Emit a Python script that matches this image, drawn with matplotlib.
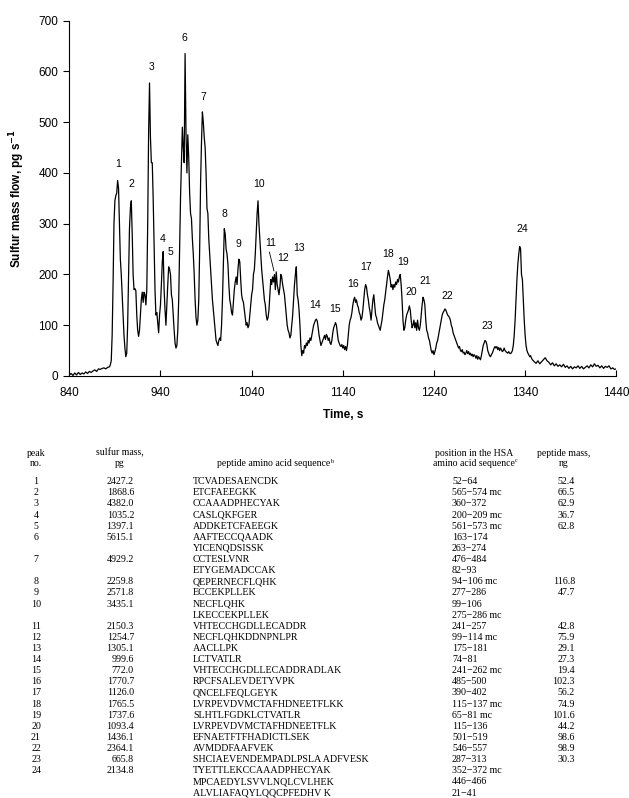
import matplotlib.pyplot as plt

plt.rcParams['font.family'] = ['Liberation Sans', 'DejaVu Sans']

# chromatogram trace (time in s, sulfur mass flow in pg/s)
time_s = [
    840, 842, 844, 846, 848, 850, 852, 854, 856, 858, 860, 862, 864, 866, 868, 870, 872, 874, 876, 878, 880, 882, 884,
    885, 886, 887, 888, 889, 890, 891, 892, 893, 894,
    895, 896, 897, 898, 899, 900, 901, 902, 903, 904,
    905, 906, 907, 908, 909, 910, 911, 912, 913, 914,
    915, 916, 917, 918, 919, 920, 921, 922, 923, 924,
    925, 926, 927, 928, 929, 930, 931, 932, 933, 934,
    935, 936, 937, 938, 939, 940, 941, 942, 943, 944,
    945, 946, 947, 948, 949, 950, 951, 952, 953, 954,
    955, 956, 957, 958, 959, 960, 961, 962, 963, 964,
    965, 966, 967, 968, 969, 970, 971, 972, 973, 974,
    975, 976, 977, 978, 979, 980, 981, 982, 983, 984,
    985, 986, 987, 988, 989, 990, 991, 992, 993, 994,
    995, 996, 997, 998, 999, 1000, 1001, 1002, 1003, 1004,
    1005, 1006, 1007, 1008, 1009, 1010, 1011, 1012, 1013, 1014,
    1015, 1016, 1017, 1018, 1019, 1020, 1021, 1022, 1023, 1024,
    1025, 1026, 1027, 1028, 1029, 1030, 1031, 1032, 1033, 1034,
    1035, 1036, 1037, 1038, 1039, 1040, 1041, 1042, 1043, 1044,
    1045, 1046, 1047, 1048, 1049, 1050, 1051, 1052, 1053, 1054,
    1055, 1056, 1057, 1058, 1059, 1060, 1061, 1062, 1063, 1064,
    1065, 1066, 1067, 1068, 1069, 1070, 1071, 1072, 1073, 1074,
    1075, 1076, 1077, 1078, 1079, 1080, 1081, 1082, 1083, 1084,
    1085, 1086, 1087, 1088, 1089, 1090, 1091, 1092, 1093, 1094,
    1095, 1096, 1097, 1098, 1099, 1100, 1101, 1102, 1103, 1104,
    1105, 1106, 1107, 1108, 1109, 1110, 1111, 1112, 1113, 1114,
    1115, 1116, 1117, 1118, 1119, 1120, 1121, 1122, 1123, 1124,
    1125, 1126, 1127, 1128, 1129, 1130, 1131, 1132, 1133, 1134,
    1135, 1136, 1137, 1138, 1139, 1140, 1141, 1142, 1143, 1144,
    1145, 1146, 1147, 1148, 1149, 1150, 1151, 1152, 1153, 1154,
    1155, 1156, 1157, 1158, 1159, 1160, 1161, 1162, 1163, 1164,
    1165, 1166, 1167, 1168, 1169, 1170, 1171, 1172, 1173, 1174,
    1175, 1176, 1177, 1178, 1179, 1180, 1181, 1182, 1183, 1184,
    1185, 1186, 1187, 1188, 1189, 1190, 1191, 1192, 1193, 1194,
    1195, 1196, 1197, 1198, 1199, 1200, 1201, 1202, 1203, 1204,
    1205, 1206, 1207, 1208, 1209, 1210, 1211, 1212, 1213, 1214,
    1215, 1216, 1217, 1218, 1219, 1220, 1221, 1222, 1223, 1224,
    1225, 1226, 1227, 1228, 1229, 1230, 1231, 1232, 1233, 1234,
    1235, 1236, 1237, 1238, 1239, 1240, 1241, 1242, 1243, 1244,
    1245, 1246, 1247, 1248, 1249, 1250, 1251, 1252, 1253, 1254,
    1255, 1256, 1257, 1258, 1259, 1260, 1261, 1262, 1263, 1264,
    1265, 1266, 1267, 1268, 1269, 1270, 1271, 1272, 1273, 1274,
    1275, 1276, 1277, 1278, 1279, 1280, 1281, 1282, 1283, 1284,
    1285, 1286, 1287, 1288, 1289, 1290, 1291, 1292, 1293, 1294,
    1295, 1296, 1297, 1298, 1299, 1300, 1301, 1302, 1303, 1304,
    1305, 1306, 1307, 1308, 1309, 1310, 1311, 1312, 1313, 1314,
    1315, 1316, 1317, 1318, 1319, 1320, 1321, 1322, 1323, 1324,
    1325, 1326, 1327, 1328, 1329, 1330, 1331, 1332, 1333, 1334,
    1335, 1336, 1337, 1338, 1339, 1340, 1341, 1342, 1343, 1344,
    1345, 1346, 1347, 1348, 1349,
    1350, 1352, 1354, 1356, 1358, 1360, 1362, 1364, 1366, 1368,
    1370, 1372, 1374, 1376, 1378, 1380, 1382, 1384, 1386, 1388,
    1390, 1392, 1394, 1396, 1398, 1400, 1402, 1404, 1406, 1408,
    1410, 1412, 1414, 1416, 1418, 1420, 1422, 1424, 1426, 1428,
    1430, 1432, 1434, 1436, 1438, 1440,
]
sulfur_flow = [
    2, 5, 1, 6, 2, 7, 3, 6, 4, 8, 5, 9, 7, 10, 12, 9, 14, 13, 15, 16, 14, 17, 18,
    22, 30, 80, 180, 300, 345, 355, 360, 385, 370,
    300, 230, 200, 160, 120, 80, 55, 38, 45, 100,
    200, 290, 330, 345, 280, 200, 170, 172, 168, 120,
    90, 78, 90, 120, 150, 165, 145, 165, 160, 140,
    170, 300, 480, 577, 470, 420, 420, 350, 260, 170,
    120, 125, 105, 85, 120, 140, 180, 225, 245, 170,
    130, 100, 140, 180, 215, 210, 200, 160, 150, 120,
    90, 65, 55, 60, 90, 150, 250, 350, 420, 490,
    450, 420, 635, 480, 400, 475, 430, 360, 320, 310,
    270, 240, 200, 150, 115, 100, 110, 150, 250, 380,
    460, 520, 500, 470, 450, 400, 330, 320, 270, 240,
    210, 180, 150, 130, 110, 90, 70, 65, 60, 70,
    75, 70, 100, 150, 220, 290, 280, 250, 240, 220,
    180, 150, 140, 125, 120, 145, 170, 185, 195, 180,
    210, 230, 225, 190, 160, 150, 145, 130, 115, 100,
    105, 95, 100, 120, 140, 160, 170, 200, 210, 240,
    280, 320, 345, 300, 270, 240, 210, 190, 170, 150,
    140, 120, 110, 115, 130, 160, 190, 180, 195, 185,
    200, 170, 205, 180, 170, 160, 175, 200, 195, 180,
    170, 160, 140, 120, 100, 90, 85, 75, 80, 100,
    120, 150, 180, 200, 215, 160, 150, 130, 100, 60,
    40, 50, 45, 60, 55, 65, 60, 70, 65, 75,
    70, 80, 90, 100, 105, 110, 112, 108, 95, 80,
    70, 60, 65, 70, 75, 80, 72, 82, 78, 70,
    75, 65, 62, 70, 85, 95, 100, 105, 100, 85,
    70, 65, 60, 58, 62, 55, 60, 52, 58, 50,
    60, 80, 100, 110, 115, 125, 140, 150, 155, 145,
    150, 140, 135, 125, 120, 110, 115, 130, 150, 170,
    180, 175, 160, 150, 135, 125, 110, 130, 150, 160,
    140, 120, 115, 105, 100, 95, 90, 100, 110, 125,
    140, 150, 165, 180, 195, 208, 200, 190, 175, 180,
    170, 180, 175, 185, 180, 190, 185, 195, 200, 180,
    150, 110, 90, 95, 110, 120, 125, 130, 138, 130,
    110, 95, 100, 110, 95, 105, 90, 110, 95, 90,
    100, 120, 140, 155, 150, 140, 110, 90, 85, 75,
    70, 60, 50, 45, 50, 42, 48, 55, 65, 70,
    80, 90, 100, 110, 120, 125, 128, 132, 130, 125,
    120, 118, 115, 110, 100, 95, 85, 80, 75, 70,
    65, 60, 55, 58, 50, 48, 52, 45, 47, 42,
    45, 50, 44, 48, 42, 45, 40, 43, 38, 42,
    40, 35, 40, 33, 38, 35, 32, 40, 50, 60,
    65, 70, 68, 62, 50, 45, 40, 38, 42, 45,
    50, 55, 58, 55, 58, 52, 56, 50, 55, 52,
    48, 50, 55, 50, 48, 46, 45, 48, 45, 44,
    46, 50, 60, 80, 110, 150, 190, 220, 240, 255,
    250, 200, 190, 150, 110, 80, 60, 50, 45, 42,
    38, 40, 35, 32, 30,
    28, 25, 30, 24, 28, 32, 36, 30, 27, 22,
    26, 20, 24, 19, 22, 18, 23, 17, 20, 15,
    19, 14, 18, 16, 20, 15, 19, 14, 17, 20,
    16, 22, 18, 24, 19, 21, 16, 20, 15, 19,
    17, 20, 14, 16, 13, 14,
]

# peak number labels
peak_labels = [str(n) for n in range(1, 25)]
peak_label_t = [894, 908, 930, 942, 951, 966.5, 987, 1010, 1026, 1048, 1061, 1075,
                1092, 1110, 1132, 1151, 1166, 1190, 1206, 1215, 1230, 1255, 1298, 1337]
peak_label_v = [407, 369, 599, 260, 234, 655, 540, 309, 251, 369, 253, 223,
                242, 129, 122, 171, 204, 230, 214, 155, 178, 147, 88, 280]

# table
col_headers = [('peak', 'no.'), ('sulfur mass,', 'pg'), ('position in the HSA', 'amino acid sequence'),
               ('peptide mass,', 'ng')]
peak_no = ['1', '2', '3', '4', '5', '6', '', '7', '', '8', '9', '10', '', '11', '12', '13', '14',
           '15', '16', '17', '18', '19', '20', '21', '22', '23', '24', '', '']
sulfur_mass_pg = ['2427.2', '1868.6', '4382.0', '1035.2', '1397.1', '5615.1', '', '4929.2', '',
                  '2259.8', '2571.8', '3435.1', '', '2150.3', '1254.7', '1305.1', '999.6', '772.0',
                  '1770.7', '1126.0', '1765.5', '1737.6', '1093.4', '1436.1', '2364.1', '665.8',
                  '2134.8', '', '']
peptide_seq = ['TCVADESAENCDK', 'ETCFAEEGKK', 'CCAAADPHECYAK', 'CASLQKFGER', 'ADDKETCFAEEGK',
               'AAFTECCQAADK', 'YICENQDSISSK', 'CCTESLVNR', 'ETYGEMADCCAK', 'QEPERNECFLQHK',
               'ECCEKPLLEK', 'NECFLQHK', 'LKECCEKPLLEK', 'VHTECCHGDLLECADDR', 'NECFLQHKDDNPNLPR',
               'AACLLPK', 'LCTVATLR', 'VHTECCHGDLLECADDRADLAK', 'RPCFSALEVDETYVPK',
               'QNCELFEQLGEYK', 'LVRPEVDVMCTAFHDNEETFLKK', 'SLHTLFGDKLCTVATLR',
               'LVRPEVDVMCTAFHDNEETFLK', 'EFNAETFTFHADICTLSEK', 'AVMDDFAAFVEK',
               'SHCIAEVENDEMPADLPSLA ADFVESK', 'TYETTLEKCCAAADPHECYAK', 'MPCAEDYLSVVLNQLCVLHEK',
               'ALVLIAFAQYLQQCPFEDHV K']
hsa_position = ['52\u221264', '565\u2212574 mc', '360\u2212372', '200\u2212209 mc', '561\u2212573 mc',
                '163\u2212174', '263\u2212274', '476\u2212484', '82\u221293', '94\u2212106 mc',
                '277\u2212286', '99\u2212106', '275\u2212286 mc', '241\u2212257', '99\u2212114 mc',
                '175\u2212181', '74\u221281', '241\u2212262 mc', '485\u2212500', '390\u2212402',
                '115\u2212137 mc', '65\u221281 mc', '115\u2212136', '501\u2212519', '546\u2212557',
                '287\u2212313', '352\u2212372 mc', '446\u2212466', '21\u221241']
peptide_mass_ng = ['52.4', '66.5', '62.9', '36.7', '62.8', '', '', '', '', '116.8', '47.7', '', '',
                   '42.8', '75.9', '29.1', '27.3', '19.4', '102.3', '56.2', '74.9', '101.6', '44.2',
                   '98.6', '98.9', '30.3', '', '', '']

W, H = 629, 798
fig = plt.figure(figsize=(W / 100, H / 100), dpi=100)
ax = fig.add_axes([69.3 / W, 1 - 376 / H, 547 / W, 355.5 / H])

ax.plot(time_s, sulfur_flow, color='black', lw=0.9)
for lab, t, v in zip(peak_labels, peak_label_t, peak_label_v):
    ax.text(t, v, lab, ha='center', va='bottom', fontsize=7.5)
# leader line for peak 11
ax.plot([1059.5, 1064.5], [244, 207], color='black', lw=0.6)

ax.set_xlim(840, 1440)
ax.set_ylim(0, 700)
ax.set_xticks(range(840, 1441, 100))
ax.set_yticks(range(0, 701, 100))
ax.spines['top'].set_visible(False)
ax.spines['right'].set_visible(False)
for s in ('left', 'bottom'):
    ax.spines[s].set_linewidth(0.8)
ax.tick_params(axis='x', direction='in', length=4, width=0.8, labelsize=8.5, pad=8)
ax.tick_params(axis='y', direction='out', length=4, width=0.8, labelsize=8.5, pad=4)
ax.set_xlabel('Time, s', fontsize=8.5, fontweight='bold')
ax.set_ylabel(r'Sulfur mass flow, pg s$^{\mathbf{-1}}$', fontsize=8.5, fontweight='bold')
ax.xaxis.set_label_coords(0.5, -0.093)
ax.yaxis.set_label_coords(-0.077, 0.5)


def fx(x):
    return x / W


def fy(y):
    return 1 - y / H


serif = ['Liberation Serif', 'DejaVu Serif']
fs = 7

# header
fig.text(fx(36), fy(453), col_headers[0][0], ha='center', va='center', fontsize=fs, family=serif)
fig.text(fx(36), fy(463), col_headers[0][1], ha='center', va='center', fontsize=fs, family=serif)
fig.text(fx(120), fy(453), col_headers[1][0], ha='center', va='center', fontsize=fs, family=serif)
fig.text(fx(120), fy(463), col_headers[1][1], ha='center', va='center', fontsize=fs, family=serif)
hseq = fig.text(fx(217), fy(464), 'peptide amino acid sequence', ha='left', va='center',
                fontsize=fs, family=serif)
fig.text(fx(474), fy(453), col_headers[2][0], ha='center', va='center', fontsize=fs, family=serif)
hpos = fig.text(fx(474), fy(463), col_headers[2][1], ha='center', va='center', fontsize=fs,
                family=serif)
fig.text(fx(564), fy(453), col_headers[3][0], ha='center', va='center', fontsize=fs, family=serif)
fig.text(fx(564), fy(463), col_headers[3][1], ha='center', va='center', fontsize=fs, family=serif)
for parent, sup in ((hseq, 'b'), (hpos, 'c')):
    fig.add_artist(plt.Annotation(sup, xy=(1.0, 0.55), xycoords=parent, fontsize=4.5,
                                  family=serif, ha='left', va='bottom'))

# rows
rfs = 7.2
for i in range(len(peptide_seq)):
    y = fy(481.7 + i * 11.12)
    fig.text(fx(36), y, peak_no[i], ha='center', va='center', fontsize=rfs, family=serif)
    fig.text(fx(134), y, sulfur_mass_pg[i], ha='right', va='center', fontsize=rfs, family=serif)
    fig.text(fx(193), y, peptide_seq[i], ha='left', va='center', fontsize=rfs, family=serif)
    fig.text(fx(452), y, hsa_position[i], ha='left', va='center', fontsize=rfs, family=serif)
    fig.text(fx(575), y, peptide_mass_ng[i], ha='right', va='center', fontsize=rfs, family=serif)

fig.savefig('out.png', dpi=100)
